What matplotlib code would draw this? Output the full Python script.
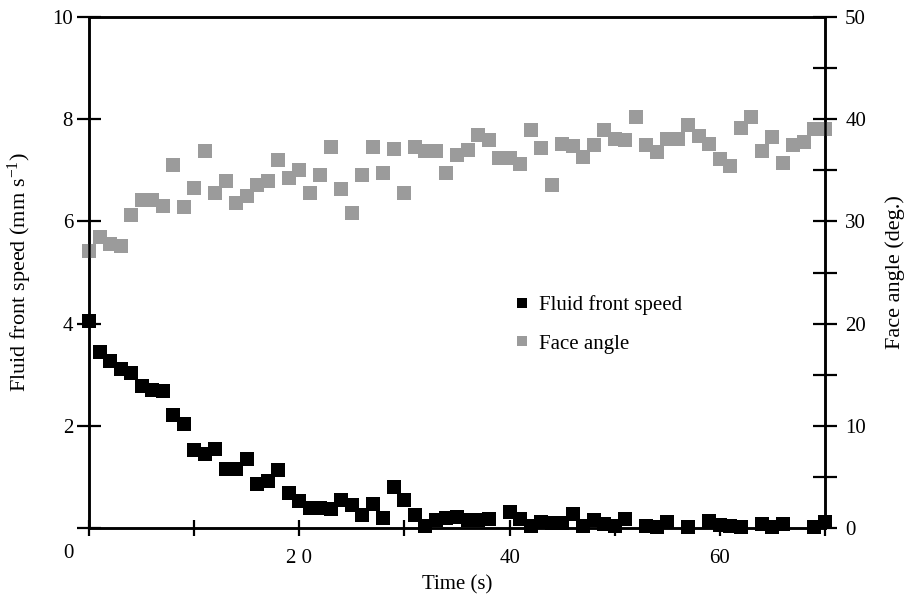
import numpy as np
import matplotlib
matplotlib.use("Agg")
import matplotlib.pyplot as plt
from matplotlib.ticker import MultipleLocator, FixedLocator

plt.rcParams['font.family'] = ['Liberation Serif', 'DejaVu Serif']
plt.rcParams['mathtext.fontset'] = 'custom'
plt.rcParams['mathtext.rm'] = 'Liberation Serif'
plt.rcParams['mathtext.it'] = 'Liberation Serif:italic'

nan = np.nan
time_s = list(range(71))
speed = [4.06, 3.45, 3.27, 3.12, 3.03, 2.78, 2.71, 2.69, 2.22, 2.03,
         1.53, 1.45, 1.54, 1.15, 1.15, 1.36, 0.87, 0.91, 1.13, 0.69,
         0.53, 0.39, 0.40, 0.37, 0.55, 0.45, 0.25, 0.47, 0.19, 0.80,
         0.55, 0.25, 0.04, 0.16, 0.19, 0.22, 0.16, 0.16, 0.17, nan,
         0.31, 0.17, 0.04, 0.12, 0.10, 0.09, 0.27, 0.04, 0.15, 0.07,
         0.04, 0.17, nan, 0.03, 0.02, 0.12, nan, 0.02, nan, 0.14,
         0.05, 0.03, 0.02, nan, 0.08, 0.02, 0.07, nan, nan, 0.01,
         0.12]
face_angle = [27.1, 28.5, 27.8, 27.6, 30.6, 32.1, 32.1, 31.5, 35.5, 31.4,
              33.3, 36.9, 32.8, 34.0, 31.8, 32.5, 33.6, 34.0, 36.0, 34.2,
              35.0, 32.8, 34.5, 37.3, 33.2, 30.8, 34.5, 37.3, 34.7, 37.1,
              32.8, 37.3, 36.9, 36.9, 34.7, 36.5, 37.0, 38.5, 38.0, 36.2,
              36.2, 35.6, 38.9, 37.2, 33.6, 37.6, 37.4, 36.3, 37.5, 38.9,
              38.1, 38.0, 40.2, 37.5, 36.8, 38.1, 38.1, 39.4, 38.4, 37.6,
              36.1, 35.4, 39.1, 40.2, 36.9, 38.3, 35.7, 37.5, 37.8, 39.0,
              39.0]

x_tick_pos = [0, 20, 40, 60]
x_tick_labels = ['', '2 0', '40', '60']
y_left_ticks = [0, 2, 4, 6, 8, 10]
y_left_labels = ['', '2', '4', '6', '8', '10']
y_right_ticks = [0, 10, 20, 30, 40, 50]

W, H = 908, 599
fig = plt.figure(figsize=(W / 100, H / 100), dpi=100)
ax = fig.add_axes([89 / W, 1 - 528 / H, (825 - 89) / W, (528 - 17) / H])
ax2 = ax.twinx()

black = '#000000'
gray = '#9b9b9b'
ms = 9.5

l1, = ax.plot(time_s, speed, linestyle='none', marker='s', ms=ms, mew=0,
              color=black, clip_on=False, label='Fluid front speed', zorder=1)
l2, = ax2.plot(time_s, face_angle, linestyle='none', marker='s', ms=ms, mew=0,
               color=gray, clip_on=False, label='Face angle', zorder=1)

ax.set_xlim(0, 70)
ax.set_ylim(0, 10)
ax2.set_ylim(0, 50)

for a in (ax, ax2):
    for s in a.spines.values():
        s.set_linewidth(1.8)
        s.set_zorder(3)

ax.xaxis.set_major_locator(FixedLocator(x_tick_pos))
ax.set_xticklabels(x_tick_labels)
ax.xaxis.set_minor_locator(FixedLocator([10, 30, 50, 70]))
ax.set_yticks(y_left_ticks)
ax.set_yticklabels(y_left_labels)
ax2.set_yticks(y_right_ticks)
ax2.yaxis.set_minor_locator(MultipleLocator(5))

ax.tick_params(axis='x', which='both', direction='inout', length=12, width=1.6,
               labelsize=15, pad=9, top=False)
ax.tick_params(axis='y', which='both', direction='inout', length=17, width=1.6,
               labelsize=15, pad=3, right=False)
ax2.tick_params(axis='y', which='both', direction='inout', length=17, width=1.6,
                labelsize=15, pad=6)

ax.set_xlabel('Time (s)', fontsize=15, labelpad=5)
ax.set_ylabel('Fluid front speed (mm s$^{-1}$)', fontsize=16, labelpad=13)
ax2.set_ylabel('Face angle (deg.)', fontsize=16, labelpad=14)

fig.text(68 / W, 1 - 553 / H, '0', fontsize=15, ha='center', va='center')

leg = ax.legend(handles=[l1, l2], loc='upper left',
                bbox_to_anchor=(503 / W, 1 - 285 / H),
                bbox_transform=fig.transFigure, frameon=False,
                fontsize=15, markerscale=0.75, handlelength=0.8,
                handletextpad=0.45, labelspacing=0.9, borderpad=0)

fig.savefig('out.png', dpi=100)
